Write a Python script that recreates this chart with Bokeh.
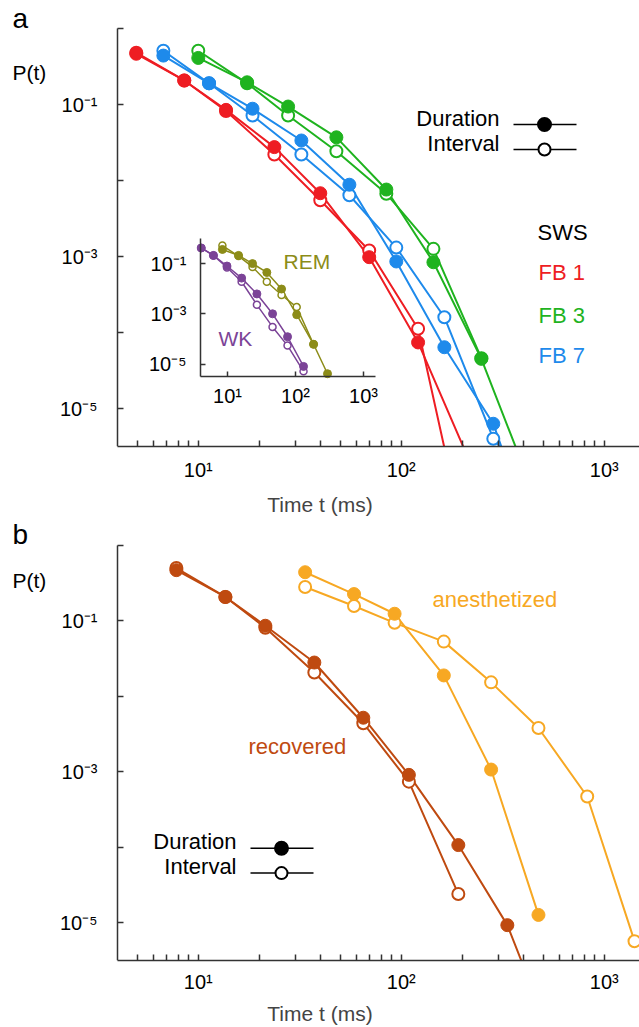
import math
from bokeh.plotting import figure
from bokeh.layouts import column
from bokeh.models import Range1d, FixedTicker, Label, LogAxis, LogScale
from bokeh.embed import file_html
from bokeh.resources import INLINE

FONT = "Liberation Sans"
INK = "#333333"

# ---------------- data ----------------
# panel a, SWS, three frequency bands
fb1_t = [4.95, 8.53, 13.7, 23.7, 39.9, 69.5, 121, 211]
fb1_duration = [0.465, 0.207, 0.085, 0.0275, 6.8e-3, 9.8e-4, 7.4e-5, 2.4e-6]
fb1_interval = [0.48, 0.207, 0.082, 0.022, 5.5e-3, 1.2e-3, 1.12e-4, 1.35e-7]

fb3_t = [10.0, 17.4, 27.7, 47.9, 84.4, 144, 248, 432]
fb3_duration = [0.41, 0.196, 0.094, 0.037, 7.6e-3, 8.4e-4, 4.5e-5, 1.0e-6]
fb3_interval = [0.51, 0.19, 0.0716, 0.0243, 6.7e-3, 1.26e-3, 4.6e-5]

fb7_t = [6.73, 11.3, 18.5, 32.2, 55.5, 94.5, 163, 284, 494]
fb7_duration = [0.44, 0.19, 0.088, 0.0336, 8.8e-3, 8.6e-4, 6.4e-5, 6.3e-6, 9.3e-8]
fb7_interval = [0.51, 0.19, 0.0716, 0.022, 6.4e-3, 1.31e-3, 1.59e-4, 4.0e-6, 7.2e-7]

# inset, REM and WK
rem_t = [8.4, 14.5, 23.3, 37.8, 62.2, 104, 184, 295]
rem_duration = [0.366, 0.212, 0.1, 0.0443, 9.7e-3, 9.2e-4, 6.1e-5, 4.1e-6]
rem_interval = [0.525, 0.2, 0.0735, 0.0189, 5.6e-3, 1.85e-3, 6.1e-5]

wk_t = [4.1, 6.2, 9.8, 16.1, 27.0, 45.9, 76.2, 131]
wk_duration = [0.42, 0.212, 0.080, 0.0264, 6.2e-3, 1.0e-3, 1.22e-4, 8.0e-6]
wk_interval = [0.42, 0.212, 0.0697, 0.0189, 2.28e-3, 3.0e-4, 5.4e-5, 5.1e-6]

# panel b
rec_t = [7.8, 13.6, 21.4, 37.3, 65, 109, 191, 333, 580]
rec_duration = [0.469, 0.207, 0.086, 0.028, 5.2e-3, 9.1e-4, 1.07e-4, 9.3e-6, 2.1e-7]
rec_interval = [0.50, 0.207, 0.081, 0.0207, 4.4e-3, 7.4e-4, 2.4e-5]

ane_t = [33.6, 58.5, 92.7, 162, 277, 474, 824, 1409]
ane_duration = [0.44, 0.226, 0.124, 0.0189, 1.07e-3, 1.27e-5]
ane_interval = [0.28, 0.157, 0.094, 0.053, 0.0153, 3.8e-3, 4.7e-4, 5.7e-6]

# ticks
x_major = [10, 100, 1000]
x_major_labels = ["10\u00b9", "10\u00b2", "10\u00b3"]
x_minor = [5, 6, 7, 8, 9, 20, 30, 40, 50, 60, 70, 80, 90,
           200, 300, 400, 500, 600, 700, 800, 900]
y_major = [1, 1e-1, 1e-2, 1e-3, 1e-4, 1e-5]
y_major_labels = ["", "10\u207b\u00b9", "", "10\u207b\u00b3", "", "10\u207b\u2075"]
inset_y_major = [1e-1, 1e-3, 1e-5]
inset_y_labels = ["10\u207b\u00b9", "10\u207b\u00b3", "10\u207b\u2075"]

RED = "#EE1D23"
GREEN = "#1FB31F"
BLUE = "#1E8AEB"
OLIVE = "#8C8C18"
PURPLE = "#7B4397"
RECOV = "#BF4A10"
ANES = "#F7A823"

# ---------------- layout constants (picture pixels) ----------------
W = 639
FRAME_L, FRAME_R = 0, W
T_MIN, P_MIN, P_MAX = 4.0, 10 ** -5.5, 1.0
AX_X = 117                 # x of the y axis (t = 4)
DEC_X = 203                # px per decade on x
DEC_Y = 76                 # px per decade on y
A_TOP, A_P1, A_BOT, A_PAD = 0, 28, 446, 72       # panel a
B_TOP, B_P1, B_BOT, B_PAD = 518, 545, 963, 64    # panel b
IN_X0, IN_DEC_X = 200, 68            # inset: px of t=4, px/decade
IN_P1, IN_DEC_Y = 238, 25.1          # inset: px of P=1, px/decade


def t_at(px, x0=AX_X, dec=DEC_X):
    return T_MIN * 10 ** ((px - x0) / dec)


def p_at(py, p1, dec=DEC_Y):
    return 10 ** (-(py - p1) / dec)


def make_panel(top, p1, bot, bottom_border):
    p = figure(width=W, height=(bot - top) + bottom_border,
               x_axis_type="log", y_axis_type="log",
               x_range=Range1d(t_at(FRAME_L), t_at(FRAME_R)),
               y_range=Range1d(p_at(bot, p1), p_at(top, p1)),
               output_backend="svg", toolbar_location=None,
               min_border_left=0, min_border_right=0, min_border_top=0,
               min_border_bottom=bottom_border)
    p.outline_line_color = None
    p.xgrid.visible = False
    p.ygrid.visible = False
    p.yaxis.fixed_location = T_MIN
    p.yaxis.bounds = (P_MIN, P_MAX)
    p.xaxis.bounds = (T_MIN, t_at(FRAME_R))
    return p


def style_axis(ax, ticks, labels, minor, standoff, tick_len=6):
    ax.axis_line_color = INK
    ax.axis_line_width = 1.5
    ax.major_tick_line_color = INK
    ax.major_tick_line_width = 1.5
    ax.minor_tick_line_color = INK
    ax.minor_tick_line_width = 1.5
    ax.major_tick_in = tick_len
    ax.major_tick_out = 0
    ax.minor_tick_in = tick_len
    ax.minor_tick_out = 0
    ax.major_label_text_font = FONT
    ax.major_label_text_font_size = "20px"
    ax.major_label_text_color = "black"
    ax.ticker = FixedTicker(ticks=ticks, minor_ticks=minor)
    ax.major_label_overrides = dict(zip(ticks, labels))
    ax.major_label_standoff = standoff


def draw_series(p, series, size, lw, olw, **rn):
    for t, dur, itv, c in series:
        p.line(t[:len(itv)], itv, line_color=c, line_width=lw, **rn)
        p.line(t[:len(dur)], dur, line_color=c, line_width=lw, **rn)
    for t, dur, itv, c in series:
        p.scatter(t[:len(itv)], itv, marker="circle", size=size - 1,
                  fill_color="white", line_color=c, line_width=olw, **rn)
    for t, dur, itv, c in series:
        p.scatter(t[:len(dur)], dur, marker="circle", size=size,
                  fill_color=c, line_color=c, line_width=1, **rn)


def add_label(p, text, page_x, page_base, frame_bot, color="black",
              size=22, align="left"):
    centre = page_base - 0.3465 * size
    p.add_layout(Label(x=page_x - FRAME_L, y=frame_bot - centre,
                       x_units="screen", y_units="screen", text=text,
                       text_font=FONT, text_font_size=f"{size}px",
                       text_color=color, text_baseline="middle",
                       text_align=align))


def add_key(p, x0, x1, y_dur, y_int, p1, text_right, frame_bot):
    xs = [t_at(x0), t_at(x1)]
    xm = [t_at((x0 + x1) / 2 - 0.5)]
    for py, fill in ((y_dur, "black"), (y_int, "white")):
        yv = p_at(py, p1)
        p.line(xs, [yv, yv], line_color="black", line_width=1.5)
        p.scatter(xm, [yv], marker="circle", size=13 if fill == "black" else 12,
                  fill_color=fill, line_color="black", line_width=2)
    add_label(p, "Duration", text_right, y_dur + 2, frame_bot, align="right")
    add_label(p, "Interval", text_right, y_int + 2, frame_bot, align="right")


def time_label(p, standoff):
    p.xaxis.axis_label = "Time t (ms)"
    p.xaxis.axis_label_text_font = FONT
    p.xaxis.axis_label_text_font_size = "21px"
    p.xaxis.axis_label_text_font_style = "normal"
    p.xaxis.axis_label_standoff = standoff


# ---------------- panel a ----------------
p_a = make_panel(A_TOP, A_P1, A_BOT, A_PAD)
style_axis(p_a.xaxis[0], x_major, x_major_labels, x_minor, 12)
style_axis(p_a.yaxis[0], y_major, y_major_labels, [], 20)
time_label(p_a, 9)

draw_series(p_a, [(fb1_t, fb1_duration, fb1_interval, RED),
                  (fb7_t, fb7_duration, fb7_interval, BLUE),
                  (fb3_t, fb3_duration, fb3_interval, GREEN)], 13, 2, 2)

# inset, drawn on its own log ranges inside panel a
p_a.extra_x_ranges = {"ix": Range1d(t_at(FRAME_L, IN_X0, IN_DEC_X),
                                    t_at(FRAME_R, IN_X0, IN_DEC_X))}
p_a.extra_y_ranges = {"iy": Range1d(p_at(A_BOT, IN_P1, IN_DEC_Y),
                                    p_at(A_TOP, IN_P1, IN_DEC_Y))}
p_a.extra_x_scales = {"ix": LogScale()}
p_a.extra_y_scales = {"iy": LogScale()}
inset_x_end = t_at(IN_X0 + 175, IN_X0, IN_DEC_X)
ixa = LogAxis(x_range_name="ix", y_range_name="iy", fixed_location=P_MIN,
              bounds=(T_MIN, inset_x_end))
iya = LogAxis(x_range_name="ix", y_range_name="iy", fixed_location=T_MIN,
              bounds=(P_MIN, P_MAX))
style_axis(ixa, x_major, x_major_labels, [], 8, tick_len=5)
style_axis(iya, inset_y_major, inset_y_labels, [], 14, tick_len=5)
p_a.add_layout(ixa, "below")
p_a.add_layout(iya, "left")
draw_series(p_a, [(rem_t, rem_duration, rem_interval, OLIVE),
                  (wk_t, wk_duration, wk_interval, PURPLE)], 8, 1.5, 1.5,
            x_range_name="ix", y_range_name="iy")

add_key(p_a, 513, 576, 124, 149, A_P1, 499, A_BOT)
add_label(p_a, "a", 12, 28, A_BOT, size=28)
add_label(p_a, "P(t)", 12, 79, A_BOT, size=21)
add_label(p_a, "SWS", 537, 240, A_BOT)
add_label(p_a, "FB 1", 538, 280, A_BOT, RED)
add_label(p_a, "FB 3", 538, 323, A_BOT, GREEN)
add_label(p_a, "FB 7", 538, 363, A_BOT, BLUE)
add_label(p_a, "REM", 283, 268, A_BOT, OLIVE, size=21)
add_label(p_a, "WK", 218, 345, A_BOT, PURPLE, size=21)

# ---------------- panel b ----------------
p_b = make_panel(B_TOP, B_P1, B_BOT, B_PAD)
style_axis(p_b.xaxis[0], x_major, x_major_labels, x_minor, 10)
style_axis(p_b.yaxis[0], y_major, y_major_labels, [], 20)
time_label(p_b, 6)

draw_series(p_b, [(rec_t, rec_duration, rec_interval, RECOV),
                  (ane_t, ane_duration, ane_interval, ANES)], 13, 2, 2)
add_key(p_b, 250, 313, 850, 875, B_P1, 236, B_BOT)
add_label(p_b, "b", 12, 547, B_BOT - B_TOP + B_TOP, size=28)
add_label(p_b, "P(t)", 12, 590, B_BOT, size=21)
add_label(p_b, "recovered", 248, 757, B_BOT, RECOV)
add_label(p_b, "anesthetized", 432, 610, B_BOT, ANES)

open("out.html", "w").write(file_html(column(p_a, p_b, spacing=0), INLINE))
